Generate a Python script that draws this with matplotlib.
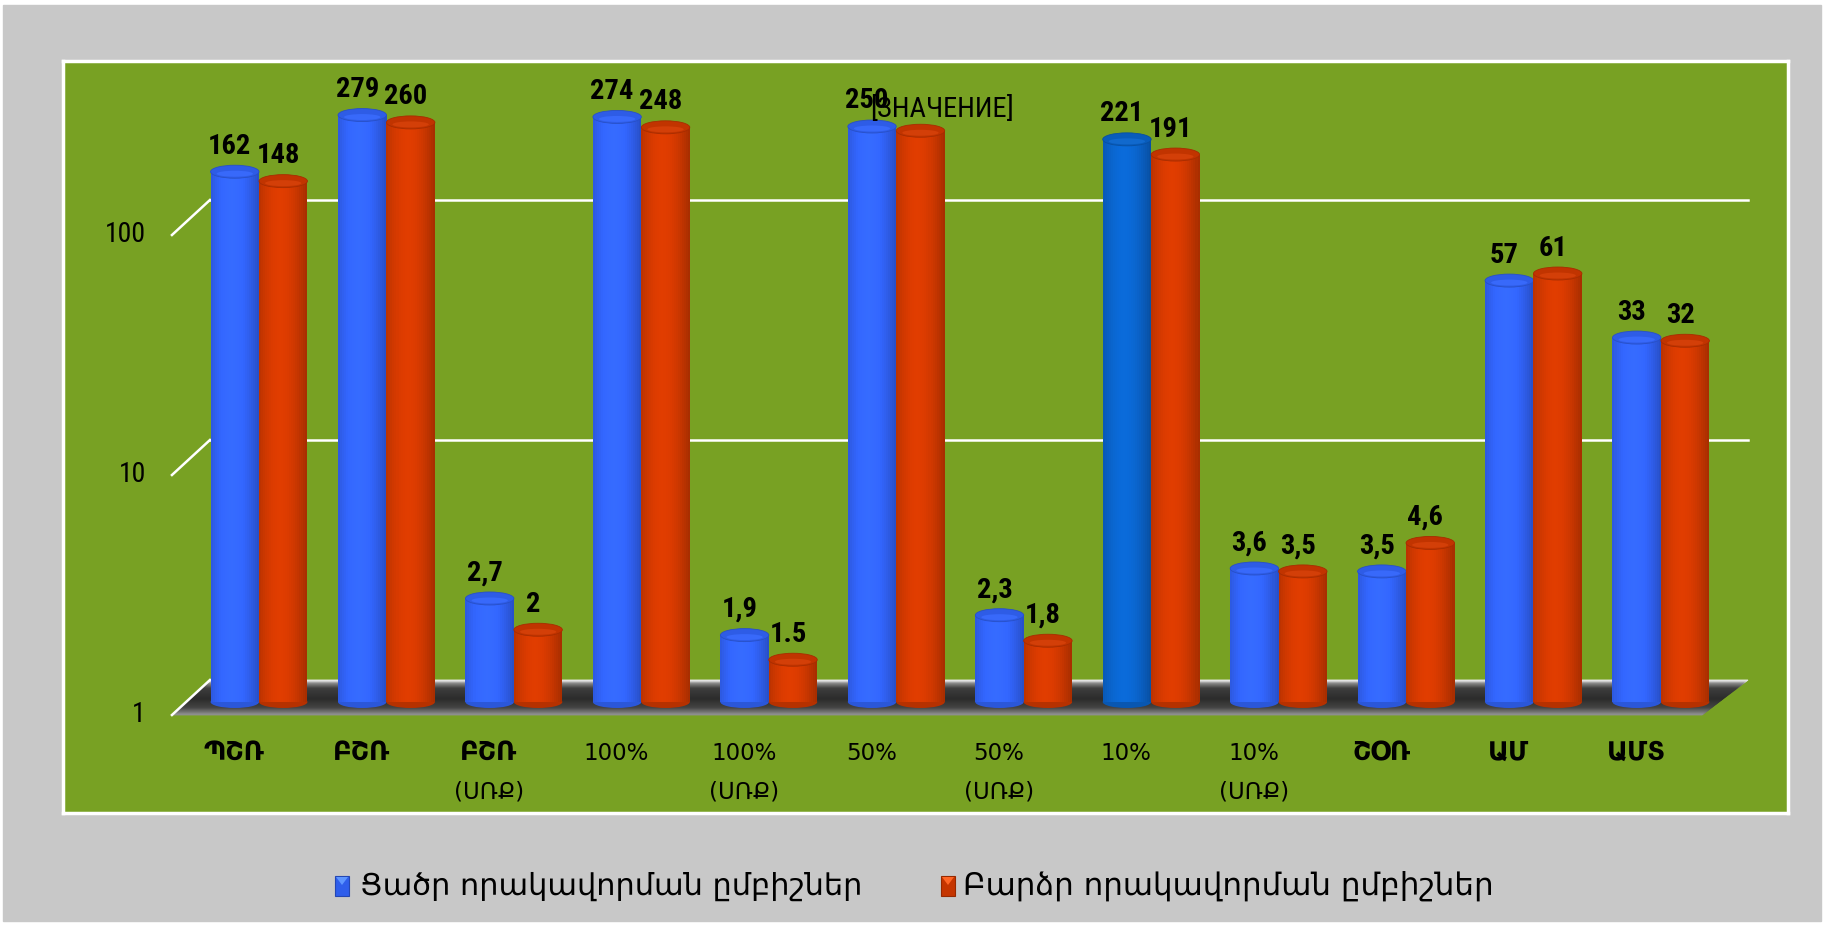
import numpy as np
import matplotlib.pyplot as plt
from matplotlib.patches import Rectangle, Polygon, Ellipse
from matplotlib.transforms import ScaledTranslation, IdentityTransform
from matplotlib.ticker import NullLocator

categories = ["ՊՇՌ", "ԲՇՌ", "ԲՇՌ\n(ՍՌՔ)", "100%", "100%\n(ՍՌՔ)", "50%", "50%\n(ՍՌՔ)",
              "10%", "10%\n(ՍՌՔ)", "ՇՕՌ", "ԱՄ", "ԱՄՏ"]
low_vals = [162, 279, 2.7, 274, 1.9, 250, 2.3, 221, 3.6, 3.5, 57, 33]
high_vals = [148, 260, 2.0, 248, 1.5, 240, 1.8, 191, 3.5, 4.6, 61, 32]
low_labels = ["162", "279", "2,7", "274", "1,9", "250", "2,3", "221", "3,6", "3,5", "57", "33"]
high_labels = ["148", "260", "2", "248", "1.5", "[ЗНАЧЕНИЕ]", "1,8", "191", "3,5", "4,6", "61", "32"]
series = ["Ցածր որակավորման ըմբիշներ", "Բարձր որակավորման ըմբիշներ"]
yticks = [1, 10, 100]

W, H = 1824, 925
GREEN = "#78a123"
BLUE = "#3366ff"
BLUE_DARK = "#0a66d0"   # highlighted point (10%)
RED = "#d63a00"
NUM_FONT = ["Liberation Sans Narrow", "Roboto Condensed", "Roboto", "DejaVu Sans"]

fig = plt.figure(figsize=(W / 100, H / 100), dpi=100, facecolor="white")
fig.add_artist(Rectangle((3 / W, 4 / H), (W - 6) / W, (H - 9) / H,
                         transform=fig.transFigure, color="#c8c8c8", zorder=0))

# plot area (green panel with white frame)
left, right, top, bottom = 63, 1788, 61, 813
ax = fig.add_axes([left / W, (H - bottom) / H, (right - left) / W, (bottom - top) / H])
ax.set_facecolor(GREEN)
for s in ax.spines.values():
    s.set_color("white")
    s.set_linewidth(2.5)
ax.set_yscale("log")
for a in (ax.xaxis, ax.yaxis):
    a.set_major_locator(NullLocator())
    a.set_minor_locator(NullLocator())

c0, step = 259, 127.45        # pixel centre of first group, group spacing
base_px = H - 702              # pixel height of value 1
decade = 240
ax.set_xlim((left - c0) / step, (right - c0) / step)
ax.set_ylim(10 ** ((H - bottom - base_px) / decade), 10 ** ((H - top - base_px) / decade))

back_dy, front_dy = 22, -13   # depth offsets of back wall / front edge (px)
back_x = (-0.385, 11.683)
front_x = (-0.683, 11.322)
to_px = ax.transData.transform
ident = IdentityTransform()

# floor slab
y1 = to_px((0, 1))[1]
bl = np.array([to_px((back_x[0], 1))[0], y1 + back_dy])
br = np.array([to_px((back_x[1], 1))[0], y1 + back_dy])
fl = np.array([to_px((front_x[0], 1))[0], y1 + front_dy])
fr = np.array([to_px((front_x[1], 1))[0], y1 + front_dy])
nrow = 36
prof_t = [0, 0.05, 0.1, 0.25, 0.55, 0.8, 0.92, 1.0]
prof_g = [0.95, 0.85, 0.55, 0.24, 0.17, 0.27, 0.45, 0.58]
for k in range(nrow):
    t0, t1 = k / nrow, (k + 1) / nrow
    g = np.interp((t0 + t1) / 2, prof_t, prof_g)
    pts = [bl + (fl - bl) * t0, br + (fr - br) * t0, br + (fr - br) * t1, bl + (fl - bl) * t1]
    ax.add_patch(Polygon(pts, closed=True, transform=ident, color=(g, g, g),
                         lw=0.6, zorder=1, clip_on=False))

# back wall gridlines and slanted tick lines
back_trans = ax.transData + ScaledTranslation(0, back_dy / 100, fig.dpi_scale_trans)
for v in yticks:
    if v > 1:
        ax.plot(back_x, [v, v], color="white", lw=1.8, transform=back_trans, zorder=1)
    p_front = to_px((front_x[0], v)) + [0, front_dy]
    p_back = to_px((back_x[0], v)) + [0, back_dy]
    ax.plot([p_front[0], p_back[0]], [p_front[1], p_back[1]], color="white", lw=1.8,
            transform=ident, zorder=1, clip_on=False)
    ax.annotate(str(v), xy=(-0.887, v), xytext=(0, front_dy * 0.72), textcoords="offset points",
                ha="right", va="center", fontsize=20, family=NUM_FONT, color="black")


def shade(color, t):
    # cylinder lighting across the bar width
    m = 0.72 + 0.33 * np.sin(np.pi * (0.15 + 0.8 * t))
    rgb = np.array(plt.matplotlib.colors.to_rgb(color))
    return np.clip(rgb * m, 0, 1)


w = 0.38
nstrip = 24
w_px = w * step
for i in range(len(categories)):
    for j, (vals, labels) in enumerate([(low_vals, low_labels), (high_vals, high_labels)]):
        v = vals[i]
        col = BLUE if j == 0 else RED
        if j == 0 and categories[i] == "10%":
            col = BLUE_DARK
        xc = i - w / 2 if j == 0 else i + w / 2
        z = 3 + i * 0.01 + j * 0.001
        ts = (np.arange(nstrip) + 0.5) / nstrip
        xs = xc - w / 2 + ts * w
        ax.bar(xs, v - 1, width=w / nstrip * 1.05, bottom=1,
               color=[shade(col, t) for t in ts], lw=0, zorder=z)
        rgb = np.array(plt.matplotlib.colors.to_rgb(col))
        ax.add_patch(Ellipse((0, 0), w_px / 100, 0.12, transform=fig.dpi_scale_trans +
                             ScaledTranslation(xc, 1, ax.transData),
                             color=rgb * 0.85, lw=0, zorder=z - 0.0005))
        ax.add_patch(Ellipse((0, 0), w_px / 100, 0.13, transform=fig.dpi_scale_trans +
                             ScaledTranslation(xc, v, ax.transData),
                             facecolor=rgb * 0.9, edgecolor=rgb * 0.78, lw=0.6, zorder=z + 0.0002))
        ax.add_patch(Ellipse((0, -0.02), w_px / 100 * 0.75, 0.06, transform=fig.dpi_scale_trans +
                             ScaledTranslation(xc, v, ax.transData),
                             color=np.clip(rgb * 0.95 + 0.03, 0, 1), lw=0, zorder=z + 0.0003))
        placeholder = labels[i].startswith("[")
        dx = 22 if placeholder else -5
        dy = 14 if placeholder else 18
        ax.annotate(labels[i], xy=(xc, v), xytext=(dx * 0.72, dy * 0.72), textcoords="offset points",
                    ha="center", va="baseline", fontsize=20.5,
                    fontweight="normal" if placeholder else "bold",
                    family=NUM_FONT, color="black", zorder=10, annotation_clip=False)

# category labels along the front edge
for i, cat in enumerate(categories):
    for k, line in enumerate(cat.split("\n")):
        heavy = not any(ch.isdigit() or ch == "(" for ch in line)
        ax.annotate(line, xy=(i, 1), xytext=(-25 * 0.72, -(51 + 39 * k) * 0.72),
                    textcoords="offset points", ha="center", va="center",
                    fontsize=18.5 if heavy else 16.5, fontweight="bold" if heavy else "normal",
                    family="DejaVu Sans", color="black", annotation_clip=False)

# legend
renderer = fig.canvas.get_renderer()
leg_y = H - 886
for name, col, mx, tx, tw in [(series[0], BLUE, 342, 360, 502), (series[1], RED, 948, 963, 529)]:
    rgb = np.array(plt.matplotlib.colors.to_rgb(col))
    fig.add_artist(Rectangle((mx - 7, leg_y - 10), 14, 20, transform=ident,
                             facecolor=rgb * 0.92, edgecolor=rgb * 0.7, lw=0.8))
    fig.add_artist(Polygon([(mx - 6, leg_y + 9), (mx + 6, leg_y + 9), (mx, leg_y + 1)],
                           transform=ident, color=np.clip(rgb * 1.1 + 0.15, 0, 1), lw=0))
    txt = fig.text(tx / W, leg_y / H, name, ha="left", va="center", fontsize=20,
                   family="DejaVu Sans", color="black")
    bw = txt.get_window_extent(renderer).width
    txt.set_fontsize(20 * tw / bw)

fig.savefig("out.png", dpi=100, facecolor=fig.get_facecolor())
